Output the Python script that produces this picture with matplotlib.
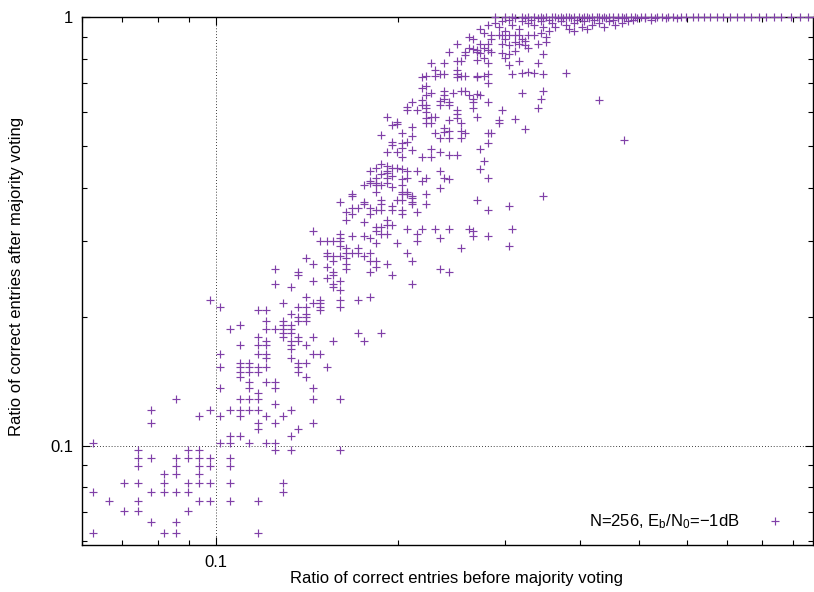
import numpy as np
import matplotlib.pyplot as plt
from matplotlib.ticker import FixedLocator, FixedFormatter, LogLocator, NullFormatter

plt.rcParams['font.family'] = ['Liberation Sans', 'DejaVu Sans']
plt.rcParams['mathtext.fontset'] = 'custom'
plt.rcParams['mathtext.rm'] = 'Liberation Sans'
plt.rcParams['mathtext.it'] = 'Liberation Sans:italic'
plt.rcParams['mathtext.default'] = 'regular'

N = 256
FS = 12

# correct entries (out of N): (after voting, [before voting, ...])
low_rows = [
    (33, [22, 28, 29, 30, 37, 41]),
    (32, [32]),
    (31, [20, 25, 27, 28, 29, 30, 34]),
    (30, [24, 26, 28, 31, 33]),
    (29, [20, 30, 32, 37]),
    (28, [30, 35]),
    (27, [27, 28, 34]),
    (26, [16, 26, 27, 29, 31, 32]),
    (25, [19, 23, 24, 32, 34, 41]),
    (24, [19, 20, 22, 23, 24, 25, 27]),
    (23, [19, 22, 24, 25, 27]),
    (22, [21, 22, 24]),
    (21, [18, 19, 21, 23, 24, 25, 27, 33]),
    (20, [16, 20, 21, 22, 23, 33]),
    (19, [17, 19, 24, 25, 27, 30]),
    (18, [18, 19, 23]),
    (17, [20, 22]),
    (16, [16, 21, 22, 30]),
]

mid_rows = [
    (66, [32, 42, 60]),
    (65, [35, 40, 46, 62]),
    (64, [35, 40, 50]),
    (63, [39]),
    (62, [37, 41]),
    (61, [32, 40, 54]),
    (60, [34, 40]),
    (59, [41]),
    (57, [36, 46]),
    (56, [25, 38, 41, 44]),
    (55, [33, 37, 38]),
    (54, [26, 35, 36, 38, 41]),
    (53, [30, 31, 38]),
    (52, [34, 36]),
    (51, [35, 36]),
    (50, [31, 33, 35, 36]),
    (49, [28, 33, 34]),
    (48, [27, 31, 32, 33, 34]),
    (47, [33, 34, 44, 48]),
    (46, [30, 33, 35, 37]),
    (45, [31, 34, 35, 40, 45]),
    (44, [28, 30, 31, 34, 36]),
    (43, [34]),
    (42, [26, 30, 31, 37, 38]),
    (41, [31, 34]),
    (40, [28, 29, 35, 36]),
    (39, [26, 28, 29, 30, 31, 35, 39]),
    (38, [28, 29, 30, 35]),
    (37, [28, 36]),
    (36, [29, 31, 32]),
    (35, [26, 29, 32, 37]),
    (34, [30]),
]

upper_rows = [
    (100, [47, 52, 53]),
    (99, [43, 52, 53, 57]),
    (98, [43, 54, 89]),
    (97, [54]),
    (96, [48, 51, 52, 69]),
    (95, [41, 45, 54]),
    (94, [45, 48, 54, 57]),
    (93, [50, 78]),
    (92, [43, 44, 46]),
    (91, [47, 48, 50, 52, 72]),
    (90, [42, 55]),
    (89, [43, 46, 52]),
    (86, [42, 49]),
    (85, [45]),
    (84, [49, 50]),
    (83, [47, 48]),
    (82, [53, 56, 59, 62, 67, 79]),
    (81, [37, 47, 68]),
    (80, [41, 48, 49, 55]),
    (79, [43, 45, 68, 72]),
    (78, [41, 46, 60]),
    (77, [38, 39, 40, 41, 55]),
    (76, [47, 51]),
    (75, [41, 78]),
    (74, [42, 44, 65]),
    (72, [39, 42, 43, 44, 46, 53]),
    (71, [39, 40, 41, 45]),
    (70, [36, 42]),
    (69, [40, 46, 47, 54]),
    (68, [37, 42, 49]),
    (67, [39, 47]),
]

high_rows = [
    (180, [72]),
    (177, [57]),
    (175, [56]),
    (172, [61, 65, 66, 89]),
    (170, [58, 63, 82]),
    (169, [69]),
    (168, [57, 61, 67, 70]),
    (165, [61, 68, 88]),
    (164, [56, 110]),
    (163, [60]),
    (162, [54, 62, 68, 72]),
    (160, [56, 57, 60, 62]),
    (158, [53]),
    (157, [57, 68, 87]),
    (155, [53, 55, 64, 76]),
    (154, [57]),
    (152, [64]),
    (150, [49, 58, 59, 69]),
    (149, [57, 64]),
    (148, [80]),
    (147, [62, 75]),
    (146, [51]),
    (145, [57, 58, 65, 75]),
    (144, [51]),
    (143, [50]),
    (142, [54]),
    (141, [61]),
    (140, [83]),
    (139, [62, 65]),
    (138, [61]),
    (137, [52, 59, 66, 72, 73]),
    (136, [48]),
    (135, [54]),
    (134, [60, 62, 65]),
    (132, [121]),
    (131, [50, 53]),
    (130, [52, 72]),
    (129, [50]),
    (127, [52]),
    (126, [58, 70]),
    (125, [54]),
    (124, [49, 51, 60]),
    (122, [62, 64]),
    (121, [52, 56, 58]),
    (118, [71]),
    (116, [48]),
    (115, [49]),
    (114, [47, 50, 51]),
    (113, [52, 70]),
    (112, [46, 49, 53, 55, 60]),
    (111, [49]),
    (110, [48]),
    (109, [50]),
    (108, [47, 49, 53, 57, 61, 72]),
    (107, [52, 62]),
    (106, [46, 56]),
    (105, [46, 47, 49]),
    (104, [45, 47, 48, 52]),
    (103, [50]),
    (102, [60]),
]

top_rows = [
    (235, [71, 88]),
    (233, [73, 76, 78, 81, 84]),
    (232, [75, 80, 86]),
    (230, [67, 90]),
    (228, [68, 73, 77, 82]),
    (225, [83]),
    (224, [80, 90]),
    (222, [64, 70, 72, 76, 81, 87]),
    (220, [78, 83]),
    (217, [67, 71, 84]),
    (216, [68]),
    (215, [69]),
    (214, [72]),
    (213, [80]),
    (212, [62, 66, 69, 73]),
    (211, [70, 76]),
    (210, [78, 89]),
    (209, [66]),
    (205, [71, 77]),
    (203, [69]),
    (202, [64, 65, 81]),
    (200, [58, 61, 72, 87]),
    (198, [78]),
    (193, [59, 64]),
    (191, [84]),
    (190, [82, 86, 97]),
    (189, [60, 61, 64]),
    (188, [72, 79, 89]),
    (186, [57, 59, 65, 66, 69, 71]),
    (185, [56, 64, 69]),
]

near_full_rows = [
    (255, [83, 89, 96, 103, 111, 118, 127, 136, 148]),
    (254, [80, 87, 94, 99, 106, 113, 121, 131, 142]),
    (252, [78, 85, 91, 101, 108, 116, 125, 134]),
    (250, [76, 82, 88, 95, 104, 114, 123]),
    (248, [74, 84, 92, 100, 110, 120]),
    (245, [72, 79, 86, 97, 107, 117]),
    (242, [75, 89, 93, 103, 112]),
    (240, [70, 81, 98, 105]),
    (238, [77, 91, 100]),
]

# runs where voting recovered every entry
full_before = [74, 77, 79, 82, 84, 86, 88, 90, 92, 93, 95, 97, 98, 100, 102,
               104, 105, 107, 109, 110, 112, 114, 116, 118, 120, 122, 124, 126,
               129, 131, 134, 137, 140, 143, 146, 150, 153, 157, 160, 164, 168,
               172, 176, 181, 186, 191, 196, 202, 208, 214, 220, 228, 236, 244, 249]

before = []
after = []
for rows in (low_rows, mid_rows, upper_rows, high_rows, top_rows, near_full_rows):
    for a, bs in rows:
        for b in bs:
            before.append(b)
            after.append(a)
for b in full_before:
    before.append(b)
    after.append(N)

x = np.array(before) / N
y = np.array(after) / N

fig = plt.figure(figsize=(8.14, 5.92), dpi=100)
ax = fig.add_axes([82 / 814, 1 - 545 / 592, 731 / 814, 528 / 592])

ax.plot(x, y, linestyle='none', marker='+', markersize=5.8, markeredgewidth=0.85,
        color='#8040a8', label=r'N=256, E$_b$/N$_0$=−1dB', clip_on=False, zorder=3)

ax.set_xscale('log')
ax.set_yscale('log')
ax.set_xlim(0.06, 0.97)
ax.set_ylim(0.0587, 1.0)

ax.xaxis.set_major_locator(FixedLocator([0.1]))
ax.xaxis.set_major_formatter(FixedFormatter(['0.1']))
ax.yaxis.set_major_locator(FixedLocator([0.1, 1.0]))
ax.yaxis.set_major_formatter(FixedFormatter(['0.1', '1']))
for axis in (ax.xaxis, ax.yaxis):
    axis.set_minor_locator(LogLocator(base=10, subs=np.arange(2, 10)))
    axis.set_minor_formatter(NullFormatter())

ax.tick_params(which='both', direction='in', top=True, right=True,
               width=0.8, colors='black', labelsize=FS)
ax.tick_params(which='major', length=6)
ax.tick_params(which='minor', length=3.5)
ax.tick_params(axis='x', pad=7.5)
ax.tick_params(axis='y', pad=6.5)
for sp in ax.spines.values():
    sp.set_linewidth(1.0)

ax.grid(True, which='major', color='black', linestyle=(0, (1, 2.5)), linewidth=0.6)

ax.set_xlabel('Ratio of correct entries before majority voting', fontsize=FS)
ax.set_ylabel('Ratio of correct entries after majority voting', fontsize=FS)
ax.xaxis.set_label_coords(0.512, -0.050)
ax.yaxis.set_label_coords(-0.080, 0.508)

ax.legend(loc='lower right', bbox_to_anchor=(0.9706, 0.026), frameon=False,
          markerfirst=False, fontsize=FS, handlelength=2.0, handletextpad=1.1,
          borderpad=0, borderaxespad=0)

fig.savefig('out.png', dpi=100)
